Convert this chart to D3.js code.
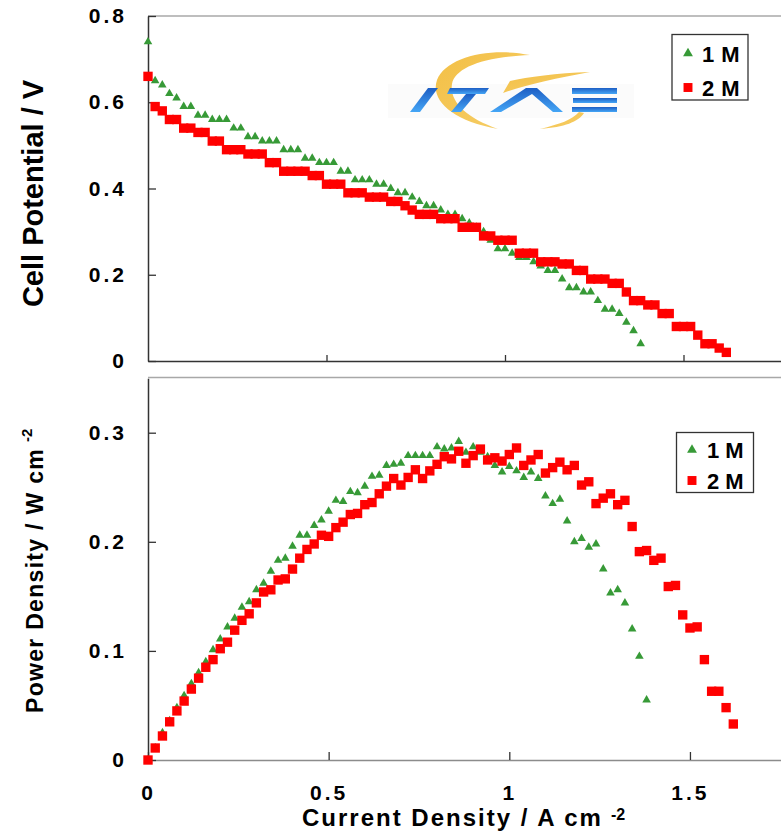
<!DOCTYPE html>
<html>
<head>
<meta charset="utf-8">
<script src="https://cdn.jsdelivr.net/npm/d3@7"></script>
<style>
  html, body { margin: 0; padding: 0; background: #fff; }
  svg { display: block; font-family: "Liberation Sans", Arial, sans-serif; }
</style>
</head>
<body>
<svg id="chart" width="781" height="838"></svg>
<script>
// ---------- data ----------
const seriesNames = ["1 M", "2 M"];

const current1M = [0, 0.02, 0.04, 0.06, 0.08, 0.10, 0.12, 0.14, 0.16, 0.18,
  0.20, 0.22, 0.24, 0.26, 0.28, 0.30, 0.32, 0.34, 0.36, 0.38,
  0.40, 0.42, 0.44, 0.46, 0.48, 0.50, 0.52, 0.54, 0.56, 0.58,
  0.60, 0.62, 0.64, 0.66, 0.68, 0.70, 0.72, 0.74, 0.76, 0.78,
  0.80, 0.82, 0.84, 0.86, 0.88, 0.90, 0.92, 0.94, 0.96, 0.98,
  1.00, 1.02, 1.04, 1.06, 1.08, 1.10, 1.12, 1.14, 1.16, 1.18,
  1.20, 1.22, 1.24, 1.26, 1.28, 1.30, 1.32, 1.34, 1.36, 1.38];

const voltage1M = [0.74, 0.65, 0.64, 0.62, 0.61, 0.59, 0.59, 0.57, 0.57, 0.56,
  0.56, 0.56, 0.54, 0.54, 0.52, 0.52, 0.51, 0.51, 0.51, 0.49,
  0.49, 0.49, 0.47, 0.47, 0.46, 0.46, 0.46, 0.44, 0.44, 0.42,
  0.42, 0.42, 0.41, 0.41, 0.40, 0.39, 0.39, 0.38, 0.37, 0.36,
  0.36, 0.35, 0.34, 0.34, 0.33, 0.32, 0.31, 0.30, 0.28, 0.26,
  0.26, 0.25, 0.24, 0.24, 0.23, 0.22, 0.21, 0.21, 0.19, 0.17,
  0.17, 0.16, 0.16, 0.14, 0.12, 0.12, 0.11, 0.09, 0.07, 0.04];

const power1M = [0, 0.011, 0.025, 0.036, 0.048, 0.059, 0.070, 0.080, 0.090, 0.101,
  0.111, 0.122, 0.130, 0.140, 0.145, 0.156, 0.162, 0.173, 0.183, 0.185,
  0.196, 0.206, 0.206, 0.215, 0.220, 0.228, 0.238, 0.237, 0.246, 0.245,
  0.251, 0.260, 0.261, 0.270, 0.271, 0.272, 0.279, 0.279, 0.279, 0.279,
  0.287, 0.285, 0.286, 0.292, 0.282, 0.287, 0.282, 0.278, 0.270, 0.264,
  0.269, 0.265, 0.259, 0.264, 0.258, 0.242, 0.235, 0.239, 0.219, 0.200,
  0.203, 0.195, 0.198, 0.175, 0.153, 0.156, 0.144, 0.120, 0.095, 0.055];

const current2M = [0, 0.02, 0.04, 0.06, 0.08, 0.10, 0.12, 0.14, 0.16, 0.18,
  0.20, 0.22, 0.24, 0.26, 0.28, 0.30, 0.32, 0.34, 0.36, 0.38,
  0.40, 0.42, 0.44, 0.46, 0.48, 0.50, 0.52, 0.54, 0.56, 0.58,
  0.60, 0.62, 0.64, 0.66, 0.68, 0.70, 0.72, 0.74, 0.76, 0.78,
  0.80, 0.82, 0.84, 0.86, 0.88, 0.90, 0.92, 0.94, 0.96, 0.98,
  1.00, 1.02, 1.04, 1.06, 1.08, 1.10, 1.12, 1.14, 1.16, 1.18,
  1.20, 1.22, 1.24, 1.26, 1.28, 1.30, 1.32, 1.34, 1.36, 1.38,
  1.40, 1.42, 1.44, 1.46, 1.48, 1.50, 1.52, 1.54, 1.56, 1.58,
  1.60, 1.62];

const voltage2M = [0.66, 0.59, 0.58, 0.56, 0.56, 0.54, 0.54, 0.53, 0.53, 0.51,
  0.51, 0.49, 0.49, 0.49, 0.48, 0.48, 0.48, 0.46, 0.46, 0.44,
  0.44, 0.44, 0.44, 0.43, 0.43, 0.41, 0.41, 0.41, 0.39, 0.39,
  0.39, 0.38, 0.38, 0.38, 0.37, 0.37, 0.36, 0.35, 0.34, 0.34,
  0.34, 0.33, 0.33, 0.33, 0.31, 0.31, 0.31, 0.29, 0.29, 0.28,
  0.28, 0.28, 0.25, 0.25, 0.25, 0.23, 0.23, 0.23, 0.225, 0.225,
  0.21, 0.21, 0.19, 0.19, 0.19, 0.18, 0.18, 0.16, 0.14, 0.14,
  0.13, 0.13, 0.11, 0.11, 0.08, 0.08, 0.08, 0.06, 0.04, 0.04,
  0.03, 0.02];

const power2M = [0, 0.011, 0.022, 0.035, 0.045, 0.054, 0.065, 0.075, 0.085, 0.092,
  0.102, 0.108, 0.119, 0.128, 0.134, 0.144, 0.154, 0.156, 0.165, 0.166,
  0.175, 0.185, 0.193, 0.198, 0.206, 0.205, 0.213, 0.218, 0.225, 0.226,
  0.234, 0.236, 0.244, 0.251, 0.258, 0.252, 0.259, 0.266, 0.258, 0.265,
  0.271, 0.278, 0.276, 0.283, 0.272, 0.279, 0.285, 0.275, 0.277, 0.274,
  0.280, 0.286, 0.270, 0.275, 0.280, 0.263, 0.268, 0.273, 0.266, 0.270,
  0.252, 0.255, 0.235, 0.240, 0.244, 0.234, 0.238, 0.214, 0.191, 0.192,
  0.183, 0.185, 0.159, 0.160, 0.133, 0.121, 0.122, 0.092, 0.063, 0.063,
  0.048, 0.033];

const xTickValues = [0, 0.5, 1, 1.5];
const yTicksPotential = [0, 0.2, 0.4, 0.6, 0.8];
const yTicksPower = [0, 0.1, 0.2, 0.3];

// ---------- setup ----------
const svg = d3.select("#chart");
svg.append("rect").attr("width", 781).attr("height", 838).attr("fill", "#fff");

const green = "#379a37", red = "#ff0000";
const triSymbol = d3.symbol().type(d3.symbolTriangle).size(32);
const sqSymbol = d3.symbol().type(d3.symbolSquare).size(88);

const zip = (xs, ys) => xs.map((x, i) => ({ x, y: ys[i] }));

function drawPanel(p) {
  const x = d3.scaleLinear().domain([0, 1.8]).range([148, 148 + p.pxPerA * 1.8]);
  const y = d3.scaleLinear().domain(p.yDomain).range([p.bottom, p.bottom - p.pxPerY * p.yDomain[1]]);
  const g = svg.append("g");

  // top frame line (grey)
  g.append("line")
    .attr("x1", 148).attr("x2", 781).attr("y1", p.top).attr("y2", p.top)
    .attr("stroke", "#a8a8a8").attr("stroke-width", 1.6);

  // x axis
  const xAxis = d3.axisBottom(x).tickValues(p.xLabels ? xTickValues : xTickValues.slice(1))
    .tickSizeInner(-p.xTick).tickSizeOuter(0).tickPadding(25)
    .tickFormat(p.xLabels ? d => String(d) : "");
  const gx = g.append("g").attr("transform", `translate(0,${p.bottom})`).call(xAxis);
  gx.select(".domain").attr("stroke", p.xAxisColor).attr("stroke-width", 1.5);
  gx.selectAll(".tick line").attr("stroke", "#333").attr("stroke-width", 1.3);
  gx.selectAll(".tick text")
    .attr("font-size", 21).attr("font-weight", "bold").attr("fill", "#000")
    .attr("letter-spacing", 3).attr("font-family", "Liberation Sans, Arial, sans-serif");

  // y axis
  const yAxis = d3.axisLeft(y).tickValues(p.yTicks)
    .tickSizeInner(-8).tickSizeOuter(0).tickPadding(21)
    .tickFormat(d => String(d));
  const gy = g.append("g").attr("transform", "translate(148,0)").call(yAxis);
  gy.select(".domain").attr("stroke", "#333").attr("stroke-width", 1.5);
  gy.selectAll(".tick line").attr("stroke", "#333").attr("stroke-width", 1.3);
  gy.selectAll(".tick text")
    .attr("font-size", 21).attr("font-weight", "bold").attr("fill", "#000")
    .attr("letter-spacing", 3).attr("font-family", "Liberation Sans, Arial, sans-serif");

  // points: 1 M triangles, 2 M squares drawn on top
  g.selectAll(".tri").data(zip(p.x1, p.y1)).join("path")
    .attr("class", "tri")
    .attr("d", triSymbol)
    .attr("transform", d => `translate(${x(d.x)},${y(d.y)})`)
    .attr("fill", green);
  g.selectAll(".sq").data(zip(p.x2, p.y2)).join("path")
    .attr("class", "sq")
    .attr("d", sqSymbol)
    .attr("transform", d => `translate(${x(d.x)},${y(d.y)})`)
    .attr("fill", red);

  // legend
  const L = p.legend;
  const lg = g.append("g");
  lg.append("rect")
    .attr("x", L.x).attr("y", L.y).attr("width", L.w).attr("height", L.h)
    .attr("fill", "#fff").attr("stroke", "#333").attr("stroke-width", 1.3);
  seriesNames.forEach((name, i) => {
    const cy = L.rows[i];
    lg.append("path")
      .attr("d", i === 0 ? d3.symbol().type(d3.symbolTriangle).size(42)() : d3.symbol().type(d3.symbolSquare).size(80)())
      .attr("transform", `translate(${L.mx},${cy})`)
      .attr("fill", i === 0 ? green : red);
    lg.append("text")
      .attr("x", L.tx).attr("y", cy + 8)
      .attr("font-size", 22).attr("font-weight", "bold").attr("fill", "#000")
      .attr("letter-spacing", L.ls)
      .text(name);
  });
}

drawPanel({
  top: 16, bottom: 361, pxPerA: 357, pxPerY: 431.25, yDomain: [0, 0.8],
  yTicks: yTicksPotential, xTick: 6, xLabels: false, xAxisColor: "#333",
  x1: current1M, y1: voltage1M, x2: current2M, y2: voltage2M,
  legend: { x: 672, y: 34.5, w: 76, h: 65.5, mx: 688, tx: 702, rows: [53.5, 87.5], ls: 0.5 }
});

drawPanel({
  top: 377.5, bottom: 760, pxPerA: 361.3, pxPerY: 1091, yDomain: [0, 0.35],
  yTicks: yTicksPower, xTick: 8, xLabels: true, xAxisColor: "#8c8c8c",
  x1: current1M, y1: power1M, x2: current2M, y2: power2M,
  legend: { x: 676.5, y: 432.5, w: 77, h: 60, mx: 692, tx: 707, rows: [450, 480.5], ls: 0 }
});

// ---------- axis titles ----------
svg.append("text")
  .attr("transform", "translate(43,193.5) rotate(-90)")
  .attr("text-anchor", "middle")
  .attr("font-size", 29).attr("font-weight", "bold").attr("fill", "#000")
  .text("Cell Potential / V");

const pTitle = svg.append("text")
  .attr("transform", "translate(43,713) rotate(-90)")
  .attr("font-size", 23).attr("font-weight", "bold").attr("fill", "#000")
  .attr("letter-spacing", 1.3);
pTitle.append("tspan").text("Power Density / W cm");
pTitle.append("tspan").attr("dx", 6).attr("dy", -11).attr("font-size", 15).attr("letter-spacing", 0).text("-2");

const xTitle = svg.append("text")
  .attr("x", 302).attr("y", 826)
  .attr("font-size", 24).attr("font-weight", "bold").attr("fill", "#000")
  .attr("letter-spacing", 2);
xTitle.append("tspan").text("Current Density / A cm");
xTitle.append("tspan").attr("dx", 8).attr("dy", -6).attr("font-size", 16).attr("letter-spacing", 0).text("-2");

// ---------- logo ----------
const logo = svg.append("g");
const defs = svg.append("defs");
const blueGrad = defs.append("linearGradient").attr("id", "blueGrad")
  .attr("x1", 0).attr("y1", 0).attr("x2", 0).attr("y2", 1);
blueGrad.append("stop").attr("offset", "0%").attr("stop-color", "#1d5ec4");
blueGrad.append("stop").attr("offset", "100%").attr("stop-color", "#45a6f6");
const goldGrad = defs.append("linearGradient").attr("id", "goldGrad")
  .attr("x1", 0).attr("y1", 0).attr("x2", 1).attr("y2", 1);
goldGrad.append("stop").attr("offset", "0%").attr("stop-color", "#f3bf45");
goldGrad.append("stop").attr("offset", "100%").attr("stop-color", "#f6cf6a");

logo.append("rect").attr("x", 388).attr("y", 84).attr("width", 246).attr("height", 34)
  .attr("fill", "#fbfbfb");

const goldPaths = [
  "M530,55 C490,47 446,57 437,80 C430,100 452,121 498,129 C466,118 449,101 452,84 C455,68 482,57 530,55 Z",
  "M590,72 C556,73 528,77 510,81 L503,93 C522,86 556,78 590,72 Z",
  "M584,113 C578,122 565,127 540,129 C560,124 572,120 579,112 Z"
];
goldPaths.forEach(d => logo.append("path").attr("d", d).attr("fill", "url(#goldGrad)"));

const bluePaths = [
  "M410,112 L420,112 L438,88 L428,88 Z",
  "M450,88 L489,88 L485,94 L447,94 Z",
  "M466,94 L476,94 L461,112 L451,112 Z",
  "M490,112 L526,88 L537,88 L563,112 L553,112 L532,94 L501,112 Z",
  "M572,88 L617,88 L617,94 L572,94 Z",
  "M573,98 L617,98 L617,103 L573,103 Z",
  "M572,107 L617,107 L617,112 L572,112 Z"
];
bluePaths.forEach(d => logo.append("path").attr("d", d).attr("fill", "url(#blueGrad)"));
</script>
</body>
</html>
